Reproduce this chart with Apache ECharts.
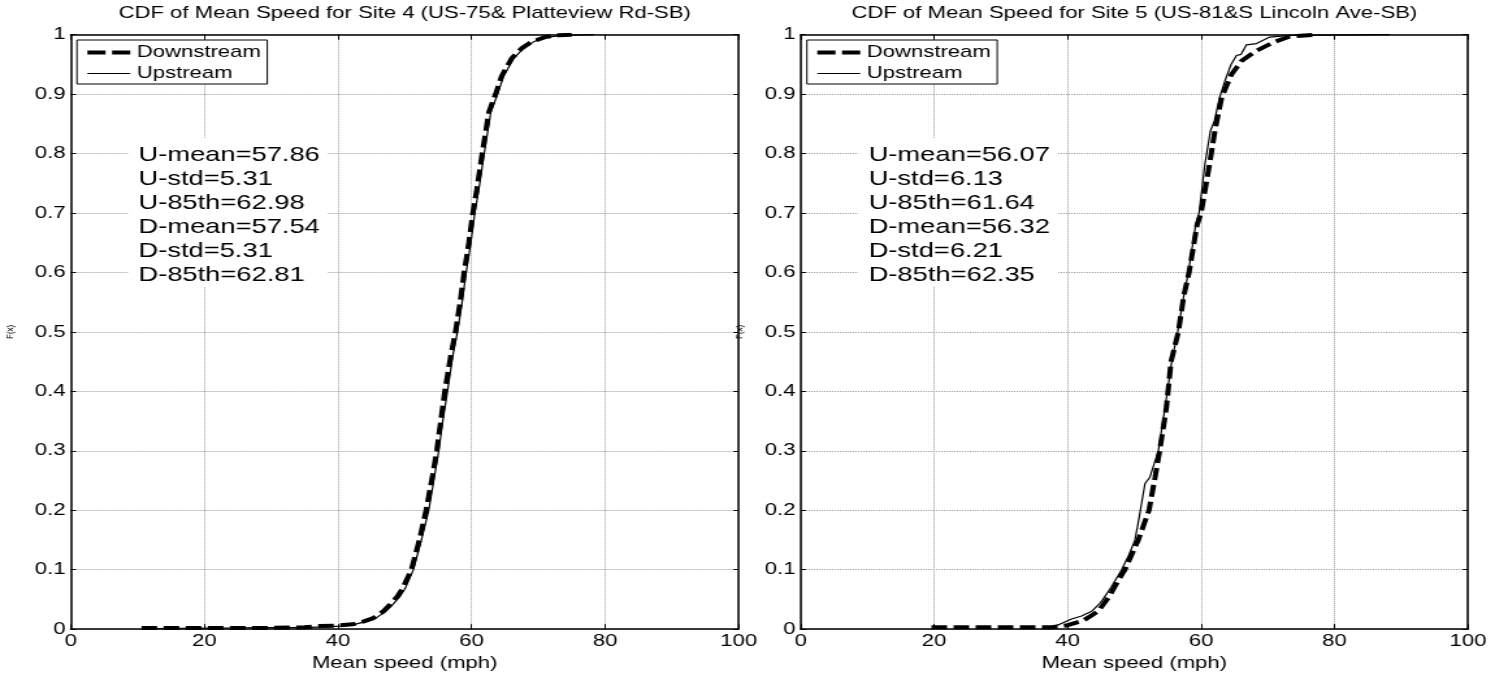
<!DOCTYPE html>
<html><head><meta charset="utf-8">
<script src="https://cdn.jsdelivr.net/npm/echarts@6/dist/echarts.min.js"></script>
<style>
html,body{margin:0;padding:0;background:#fff;overflow:hidden;}
#wrap{width:1495px;height:677px;overflow:hidden;position:relative;background:#fff;}
#chart{width:1150px;height:677px;transform:scaleX(1.3);transform-origin:0 0;}
</style></head><body>
<div id="wrap"><div id="chart"></div></div>
<script>
// ---- data ----
const plotTitles = [
  'CDF of Mean Speed for Site 4 (US-75& Platteview Rd-SB)',
  'CDF of Mean Speed for Site 5 (US-81&S Lincoln Ave-SB)'
];
const seriesNames = ['Downstream', 'Upstream'];
const xAxisName = 'Mean speed (mph)';
const yAxisName = 'F(x)';
const xTicks = [0, 20, 40, 60, 80, 100];
const yTicks = [0, 0.1, 0.2, 0.3, 0.4, 0.5, 0.6, 0.7, 0.8, 0.9, 1];

const site4Stats = ['U-mean=57.86','U-std=5.31','U-85th=62.98','D-mean=57.54','D-std=5.31','D-85th=62.81'];
const site5Stats = ['U-mean=56.07','U-std=6.13','U-85th=61.64','D-mean=56.32','D-std=6.21','D-85th=62.35'];

// [speed, F(x)]
const site4Downstream = [
  [10.6,0.002],[20,0.002],[30,0.002],[35,0.003],[37,0.005],[40,0.006],[42.2,0.008],[43.9,0.013],
  [45.2,0.018],[46.7,0.029],[47.7,0.040],[48.9,0.055],[49.7,0.069],[51.0,0.1],[52.2,0.15],[53.2,0.2],
  [54.2,0.26],[54.8,0.3],[55.4,0.35],[56.0,0.4],[56.9,0.46],[57.6,0.5],[58.3,0.55],[58.9,0.6],
  [59.6,0.65],[60.2,0.7],[60.8,0.74],[61.6,0.8],[62.6,0.87],[63.6,0.9],[64.5,0.93],[66.0,0.96],
  [67.5,0.977],[69.0,0.988],[71.0,0.996],[73.0,0.999],[75.0,1]
];
const site4Upstream = [
  [12.5,0.001],[25,0.002],[36,0.003],[40.5,0.005],[42.5,0.008],[44.3,0.013],[45.6,0.018],[47.1,0.029],
  [48.1,0.040],[49.3,0.055],[50.1,0.069],[51.3,0.1],[52.5,0.15],[53.6,0.2],[54.5,0.26],[55.1,0.3],
  [55.7,0.35],[56.4,0.4],[57.2,0.46],[57.9,0.5],[58.6,0.55],[59.2,0.6],[59.9,0.65],[60.5,0.7],
  [61.1,0.74],[61.9,0.8],[62.9,0.87],[63.9,0.9],[64.8,0.93],[66.3,0.96],[67.8,0.977],[69.3,0.988],
  [71.2,0.996],[74.0,0.999],[78.3,1]
];
const site5Downstream = [
  [19.6,0.003],[30,0.003],[37.6,0.003],[39.8,0.006],[42.3,0.014],[44.6,0.03],[46.3,0.056],[47.5,0.08],
  [48.6,0.1],[50.6,0.15],[52.2,0.2],[53.1,0.255],[53.8,0.3],[54.8,0.372],[55.5,0.45],[56.6,0.5],
  [57.4,0.56],[58.2,0.6],[59.4,0.68],[60.0,0.7],[61.3,0.784],[62.1,0.84],[63.1,0.895],[64.6,0.934],
  [66.1,0.956],[68.3,0.973],[70.8,0.987],[73.3,0.997],[77.5,1]
];
const site5Upstream = [
  [37.3,0.002],[38.8,0.008],[40.6,0.017],[42.1,0.022],[43.6,0.03],[44.8,0.043],[45.3,0.05],[46.5,0.07],
  [48.1,0.1],[49.2,0.125],[50.1,0.15],[50.6,0.18],[51.6,0.245],[52.3,0.255],[53.6,0.3],[54.6,0.372],
  [55.6,0.45],[56.5,0.5],[57.4,0.56],[58.1,0.6],[59.2,0.68],[59.7,0.7],[60.6,0.784],[61.4,0.838],
  [62.0,0.855],[62.8,0.895],[63.6,0.923],[64.5,0.95],[65.3,0.965],[66.0,0.967],[66.8,0.983],[68.3,0.985],
  [70.3,0.996],[73.3,0.999],[88.3,1]
];

// ---- chart ----
const FONT = '"Liberation Sans", Arial, sans-serif';
const chart = echarts.init(document.getElementById('chart'), null, {renderer: 'canvas'});

const grids = [
  {left: 54.4, right: 581.8, top: 34.7, bottom: 44.3},
  {left: 615.9, right: 20.8, top: 34.7, bottom: 44.3}
];
const xMin = xTicks[0], xMax = xTicks[xTicks.length-1], xInt = xTicks[1]-xTicks[0];
const yMin = yTicks[0], yMax = yTicks[yTicks.length-1], yInt = 0.1;

function mainX(g) {
  return {
    type: 'value', gridIndex: g, min: xMin, max: xMax, interval: xInt, position: 'bottom',
    name: xAxisName, nameLocation: 'middle', nameGap: 22,
    nameTextStyle: {fontFamily: FONT, fontSize: 17, color: '#000'},
    axisLine: {show: true, onZero: false, lineStyle: {color: '#000', width: 1.5}},
    axisTick: {show: true, inside: true, length: 5, lineStyle: {color: '#000', width: 1}},
    axisLabel: {fontFamily: FONT, fontSize: 17, color: '#000', margin: 4},
    splitLine: {show: true, lineStyle: {color: '#9a9a9a', type: 'dotted', width: 1}}
  };
}
function boxX(g) {
  return {
    type: 'value', gridIndex: g, min: xMin, max: xMax, interval: xInt, position: 'top',
    axisLine: {show: true, onZero: false, lineStyle: {color: '#000', width: 1.5}},
    axisTick: {show: true, inside: true, length: 5, lineStyle: {color: '#000', width: 1}},
    axisLabel: {show: false}, splitLine: {show: false}
  };
}
function mainY(g) {
  return {
    type: 'value', gridIndex: g, min: yMin, max: yMax, interval: yInt, position: 'left',
    name: yAxisName, nameLocation: 'middle', nameGap: 43, nameRotate: 90,
    nameTextStyle: {fontFamily: FONT, fontSize: 8, color: '#000'},
    axisLine: {show: true, onZero: false, lineStyle: {color: '#000', width: 1.5}},
    axisTick: {show: true, inside: true, length: 4, lineStyle: {color: '#000', width: 1}},
    axisLabel: {fontFamily: FONT, fontSize: 17, color: '#000', margin: 4},
    splitLine: {show: true, lineStyle: {color: '#9a9a9a', type: 'dotted', width: 1}}
  };
}
function boxY(g) {
  return {
    type: 'value', gridIndex: g, min: yMin, max: yMax, interval: yInt, position: 'right',
    axisLine: {show: true, onZero: false, lineStyle: {color: '#000', width: 1.5}},
    axisTick: {show: true, inside: true, length: 4, lineStyle: {color: '#000', width: 1}},
    axisLabel: {show: false}, splitLine: {show: false}
  };
}
function down(g, data) {
  return {
    name: seriesNames[0], type: 'line', xAxisIndex: g, yAxisIndex: g, data: data,
    symbol: 'none', smooth: false, z: 3, animation: false,
    itemStyle: {color: '#000'},
    lineStyle: {color: '#000', width: 4, type: [12, 5]}
  };
}
function up(g, data) {
  return {
    name: seriesNames[1], type: 'line', xAxisIndex: g, yAxisIndex: g, data: data,
    symbol: 'none', smooth: false, z: 4, animation: false,
    itemStyle: {color: '#000'},
    lineStyle: {color: '#000', width: 1.2, type: 'solid'}
  };
}
function legend(left) {
  return {
    orient: 'vertical', left: left, top: 40, padding: [4, 5, 2, 6],
    itemWidth: 33, itemHeight: 12, itemGap: 4,
    borderColor: '#000', borderWidth: 1, backgroundColor: '#fff', borderRadius: 0,
    textStyle: {fontFamily: FONT, fontSize: 17, color: '#000'},
    itemStyle: {opacity: 0, borderWidth: 0},
    data: [
      {name: seriesNames[0], itemStyle: {opacity: 0, borderWidth: 0},
       lineStyle: {type: [14, 5], width: 4, color: '#000'}},
      {name: seriesNames[1], itemStyle: {opacity: 0, borderWidth: 0},
       lineStyle: {width: 1.2, color: '#000'}}
    ],
    selectedMode: false
  };
}
function statsBox(left, lines) {
  return {
    text: lines.join('\n'), left: left, top: 138, padding: [5, 6, 0, 8],
    backgroundColor: '#fff',
    textStyle: {fontFamily: FONT, fontSize: 21, fontWeight: 'normal', color: '#000', lineHeight: 24}
  };
}

chart.setOption({
  animation: false,
  backgroundColor: '#fff',
  grid: grids,
  title: [
    {text: plotTitles[0], left: 311.3, top: 5, textAlign: 'center', padding: 0,
     textStyle: {fontFamily: FONT, fontSize: 17, fontWeight: 'normal', color: '#000'}},
    {text: plotTitles[1], left: 872.6, top: 5, textAlign: 'center', padding: 0,
     textStyle: {fontFamily: FONT, fontSize: 17, fontWeight: 'normal', color: '#000'}},
    statsBox(98.5, site4Stats),
    statsBox(660.2, site5Stats)
  ],
  legend: [legend(59.2), legend(620.7)],
  xAxis: [mainX(0), mainX(1), boxX(0), boxX(1)],
  yAxis: [mainY(0), mainY(1), boxY(0), boxY(1)],
  series: [
    down(0, site4Downstream), up(0, site4Upstream),
    down(1, site5Downstream), up(1, site5Upstream)
  ]
});
</script>
</body></html>
